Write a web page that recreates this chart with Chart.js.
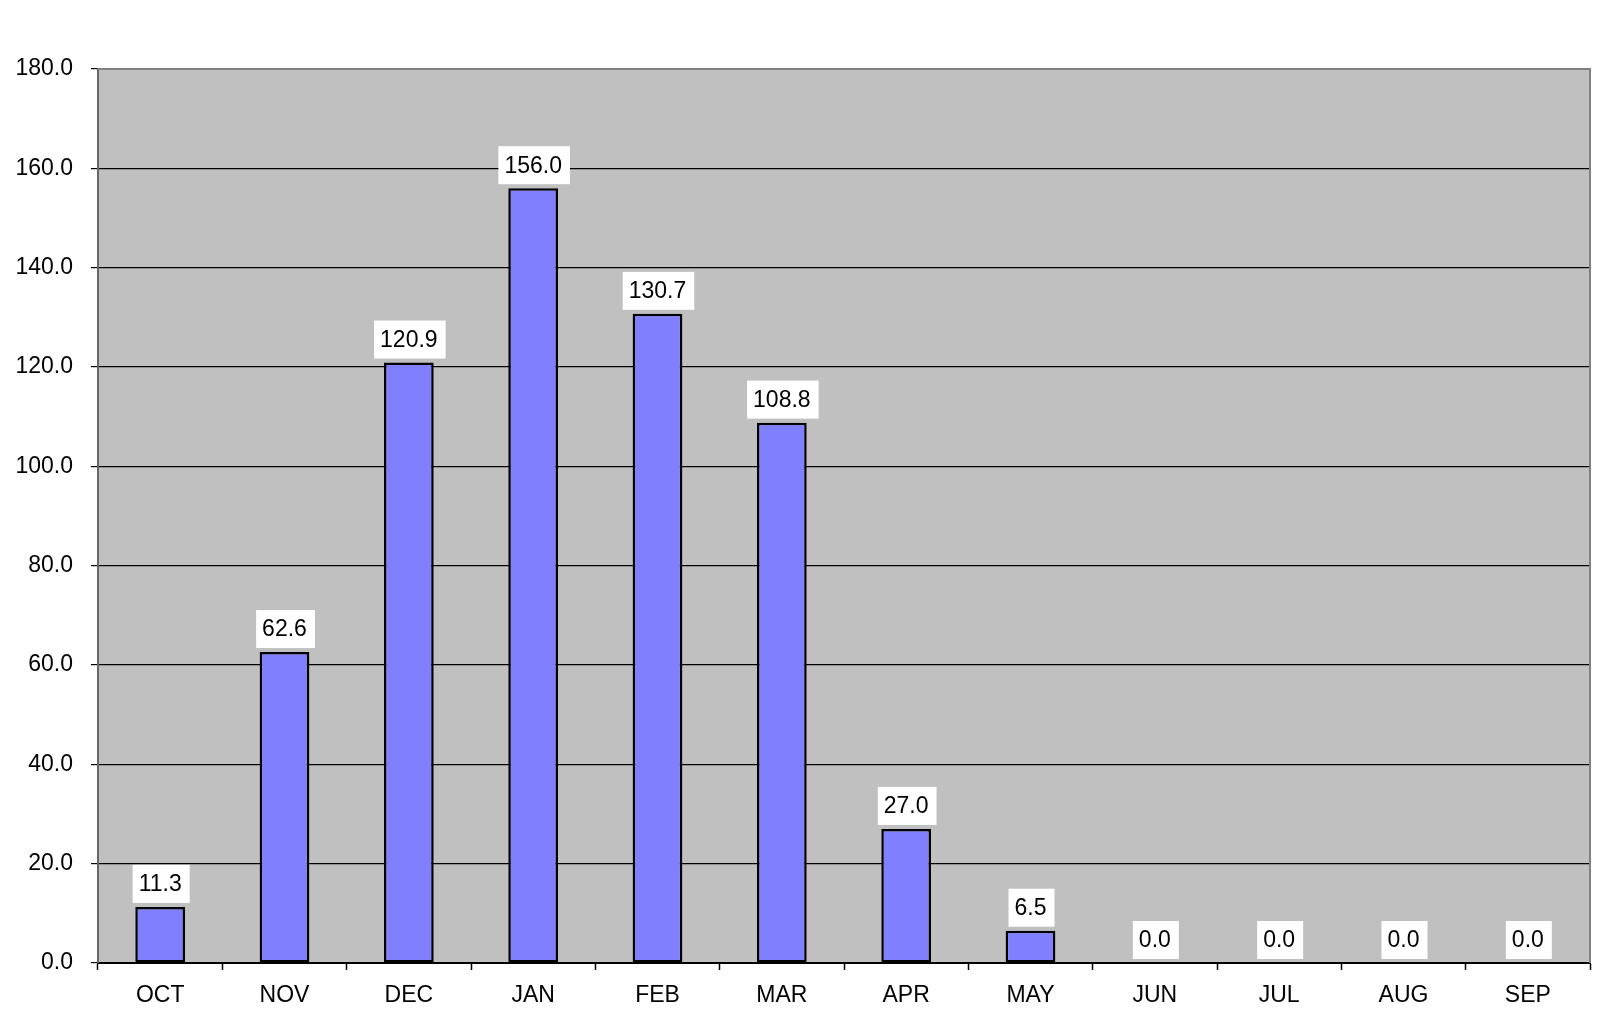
<!DOCTYPE html>
<html>
<head>
<meta charset="utf-8">
<script src="https://cdn.jsdelivr.net/npm/chart.js@4"></script>
<style>
  html, body { margin: 0; padding: 0; background: #fff; }
  #wrap { width: 1612px; height: 1020px; }
</style>
</head>
<body>
<div id="wrap"><canvas id="chart"></canvas></div>
<script>
const months = ['OCT', 'NOV', 'DEC', 'JAN', 'FEB', 'MAR', 'APR', 'MAY', 'JUN', 'JUL', 'AUG', 'SEP'];
const values = [11.3, 62.6, 120.9, 156.0, 130.7, 108.8, 27.0, 6.5, 0.0, 0.0, 0.0, 0.0];
const yMin = 0;
const yMax = 180;
const yStep = 20;

const FONT = 'Liberation Sans, Arial, sans-serif';

// grey plot area with thin grey frame on top/right
const plotBackground = {
    id: 'plotBackground',
    beforeDraw(chart) {
        const { ctx, chartArea: a } = chart;
        ctx.save();
        ctx.fillStyle = '#c0c0c0';
        ctx.fillRect(a.left, a.top, a.right - a.left, a.bottom - a.top);
        ctx.restore();
    },
    afterDatasetsDraw(chart) {
        const { ctx, chartArea: a } = chart;
        ctx.save();
        ctx.strokeStyle = '#808080';
        ctx.lineWidth = 2;
        ctx.beginPath();
        ctx.moveTo(a.left, a.top);
        ctx.lineTo(a.right, a.top);
        ctx.lineTo(a.right, a.bottom);
        ctx.stroke();
        ctx.restore();
    }
};

// value labels in white boxes above each bar
const valueBoxes = {
    id: 'valueBoxes',
    afterDatasetsDraw(chart) {
        const { ctx } = chart;
        const meta = chart.getDatasetMeta(0);
        ctx.save();
        ctx.font = '23px ' + FONT;
        ctx.textAlign = 'center';
        ctx.textBaseline = 'middle';
        meta.data.forEach((bar, i) => {
            const text = values[i].toFixed(1);
            const w = ctx.measureText(text).width + 14;
            const h = 38;
            const bottom = bar.y - 4;
            ctx.fillStyle = '#ffffff';
            ctx.fillRect(bar.x - w / 2 + 1, bottom - h, w, h);
            ctx.fillStyle = '#000000';
            ctx.fillText(text, bar.x, bottom - h / 2 + 1);
        });
        ctx.restore();
    }
};

new Chart(document.getElementById('chart'), {
    type: 'bar',
    data: {
        labels: months,
        datasets: [{
            data: values,
            backgroundColor: '#8080ff',
            borderColor: '#000000',
            borderWidth: 2.5,
            borderSkipped: false,
            barPercentage: 0.8,
            categoryPercentage: 0.5
        }]
    },
    options: {
        responsive: true,
        maintainAspectRatio: false,
        animation: false,
        layout: { padding: { top: 69, right: 22, left: 0, bottom: 0 } },
        plugins: {
            legend: { display: false },
            tooltip: { enabled: false }
        },
        scales: {
            x: {
                afterFit(scale) { scale.height = 57; },
                grid: {
                    offset: true,
                    drawOnChartArea: false,
                    drawTicks: true,
                    tickLength: 7,
                    tickColor: '#000000',
                    tickWidth: 1.5
                },
                border: { color: '#000000', width: 2 },
                ticks: {
                    color: '#000000',
                    font: { family: FONT, size: 23 },
                    padding: 12,
                    maxRotation: 0,
                    autoSkip: false
                }
            },
            y: {
                min: yMin,
                max: yMax,
                afterFit(scale) { scale.width = 98; },
                grid: {
                    color: ctx => ctx.tick && ctx.tick.value === yMax ? '#808080' : '#000000',
                    lineWidth: 1.2,
                    drawTicks: true,
                    tickLength: 7,
                    tickColor: '#000000'
                },
                border: { color: '#666666', width: 2 },
                ticks: {
                    stepSize: yStep,
                    color: '#000000',
                    font: { family: FONT, size: 23 },
                    padding: 18,
                    callback: v => Number(v).toFixed(1)
                }
            }
        }
    },
    plugins: [plotBackground, valueBoxes]
});
</script>
</body>
</html>
